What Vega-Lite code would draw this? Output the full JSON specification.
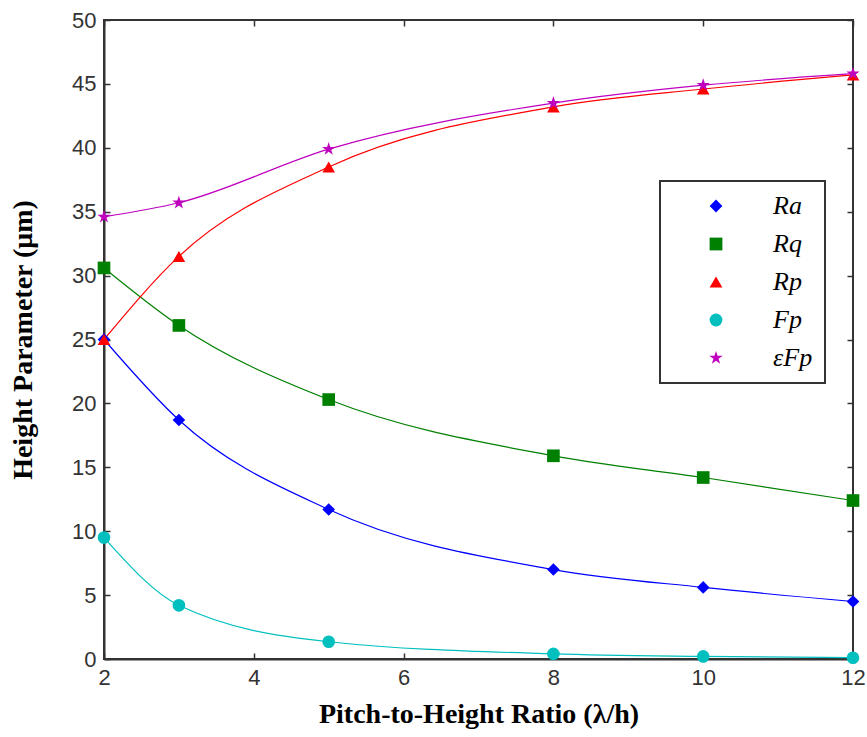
{
  "$schema": "https://vega.github.io/schema/vega-lite/v6.json",
  "width": 749,
  "height": 639,
  "autosize": "none",
  "padding": {"left": 104, "top": 20, "right": 14, "bottom": 78},
  "background": "white",
  "config": {
    "view": {"stroke": "#333333", "strokeWidth": 2},
    "axis": {
      "grid": false,
      "domainColor": "#333333",
      "domainWidth": 2,
      "tickColor": "#333333",
      "tickWidth": 1.5,
      "tickSize": -6,
      "labelFont": "Liberation Sans",
      "labelFontSize": 22,
      "labelColor": "#333333",
      "titleFont": "Liberation Serif",
      "titleFontWeight": "bold",
      "titleFontSize": 28,
      "titleColor": "black"
    }
  },
  "data": {
    "values": [
      {"x": 2, "v": 25.0, "s": "Ra"}, {"x": 3, "v": 18.7, "s": "Ra"}, {"x": 5, "v": 11.7, "s": "Ra"}, {"x": 8, "v": 7.0, "s": "Ra"}, {"x": 10, "v": 5.6, "s": "Ra"}, {"x": 12, "v": 4.5, "s": "Ra"},
      {"x": 2, "v": 30.6, "s": "Rq"}, {"x": 3, "v": 26.1, "s": "Rq"}, {"x": 5, "v": 20.3, "s": "Rq"}, {"x": 8, "v": 15.9, "s": "Rq"}, {"x": 10, "v": 14.2, "s": "Rq"}, {"x": 12, "v": 12.4, "s": "Rq"},
      {"x": 2, "v": 25.0, "s": "Rp"}, {"x": 3, "v": 31.5, "s": "Rp"}, {"x": 5, "v": 38.5, "s": "Rp"}, {"x": 8, "v": 43.2, "s": "Rp"}, {"x": 10, "v": 44.6, "s": "Rp"}, {"x": 12, "v": 45.7, "s": "Rp"},
      {"x": 2, "v": 9.5, "s": "Fp"}, {"x": 3, "v": 4.2, "s": "Fp"}, {"x": 5, "v": 1.35, "s": "Fp"}, {"x": 8, "v": 0.4, "s": "Fp"}, {"x": 10, "v": 0.2, "s": "Fp"}, {"x": 12, "v": 0.1, "s": "Fp"},
      {"x": 2, "v": 34.6, "s": "εFp"}, {"x": 3, "v": 35.7, "s": "εFp"}, {"x": 5, "v": 39.9, "s": "εFp"}, {"x": 8, "v": 43.5, "s": "εFp"}, {"x": 10, "v": 44.9, "s": "εFp"}, {"x": 12, "v": 45.8, "s": "εFp"}
    ]
  },
  "layer": [
    {
      "encoding": {
        "x": {
          "field": "x", "type": "quantitative",
          "scale": {"domain": [2, 12], "nice": false, "zero": false},
          "axis": {"values": [2, 4, 6, 8, 10, 12], "title": "Pitch-to-Height Ratio (λ/h)", "titlePadding": 12, "labelPadding": 14, "labelFlush": false}
        },
        "y": {
          "field": "v", "type": "quantitative",
          "scale": {"domain": [0, 50], "nice": false},
          "axis": {"values": [0, 5, 10, 15, 20, 25, 30, 35, 40, 45, 50], "title": "Height Parameter (μm)", "titlePadding": 34, "labelPadding": 14}
        },
        "color": {
          "field": "s", "type": "nominal",
          "scale": {"domain": ["Ra", "Rq", "Rp", "Fp", "εFp"], "range": ["#0000ff", "#008000", "#ff0000", "#00bfbf", "#bf00bf"]},
          "legend": {
            "orient": "none",
            "legendX": 556,
            "legendY": 161,
            "title": null,
            "strokeColor": "#333333",
            "fillColor": "white",
            "padding": 12,
            "symbolSize": 164,
            "symbolOffset": 31,
            "rowPadding": 12,
            "labelFont": "Liberation Serif",
            "labelFontStyle": "italic",
            "labelFontSize": 26,
            "labelColor": "black",
            "labelOffset": 44,
            "encode": {
              "legend": {"update": {"strokeWidth": {"value": 2}}},
              "symbols": {
                "update": {
                  "size": {"value": 164},
                  "shape": {"signal": "datum.value == 'Ra' ? 'M-1,-0.018L1,-0.018L1,0.018L-1,0.018ZM0,-0.17L0.14,0L0,0.17L-0.14,0Z' : datum.value == 'Rq' ? 'M-1,-0.018L1,-0.018L1,0.018L-1,0.018ZM-0.16,-0.16L0.16,-0.16L0.16,0.16L-0.16,0.16Z' : datum.value == 'Rp' ? 'M-1,-0.018L1,-0.018L1,0.018L-1,0.018ZM0,-0.17L0.16,0.12L-0.16,0.12Z' : datum.value == 'Fp' ? 'M-1,-0.018L1,-0.018L1,0.018L-1,0.018ZM-0.15,0A0.15,0.15 0 1,0 0.15,0A0.15,0.15 0 1,0 -0.15,0Z' : 'M-1,-0.018L1,-0.018L1,0.018L-1,0.018ZM0,-0.18L0.041,-0.056L0.171,-0.056L0.065,0.021L0.106,0.146L0,0.069L-0.106,0.146L-0.065,0.021L-0.171,-0.056L-0.041,-0.056Z'"},
                  "fill": {"signal": "datum.value == 'Ra' ? '#0000ff' : datum.value == 'Rq' ? '#008000' : datum.value == 'Rp' ? '#ff0000' : datum.value == 'Fp' ? '#00bfbf' : '#bf00bf'"},
                  "stroke": {"value": "transparent"},
                  "strokeWidth": {"value": 0},
                  "opacity": {"value": 1},
                  "fillOpacity": {"value": 1}
                }
              }
            }
          }
        }
      },
      "layer": [
        {
          "mark": {"type": "line", "interpolate": "monotone", "strokeWidth": 1.2}
        },
        {
          "mark": {"type": "point", "filled": true, "opacity": 1, "size": 160},
          "encoding": {
            "shape": {
              "field": "s", "type": "nominal", "legend": null,
              "scale": {"domain": ["Ra", "Rq", "Rp", "Fp", "εFp"], "range": ["diamond", "square", "triangle-up", "circle", "M0,-1.1L0.25,-0.34L1.05,-0.34L0.4,0.13L0.65,0.89L0,0.42L-0.65,0.89L-0.4,0.13L-1.05,-0.34L-0.25,-0.34Z"]}
            }
          }
        }
      ]
    },
    {
      "mark": {"type": "rule", "opacity": 0},
      "encoding": {
        "x": {"field": "x", "type": "quantitative", "scale": {"domain": [2, 12], "nice": false, "zero": false}, "axis": {"orient": "top", "values": [2, 4, 6, 8, 10, 12], "labels": false, "title": null, "domain": false}},
        "y": {"field": "v", "type": "quantitative", "scale": {"domain": [0, 50], "nice": false}, "axis": {"orient": "right", "values": [0, 5, 10, 15, 20, 25, 30, 35, 40, 45, 50], "labels": false, "title": null, "domain": false}}
      }
    }
  ],
  "resolve": {"axis": {"x": "independent", "y": "independent"}}
}
